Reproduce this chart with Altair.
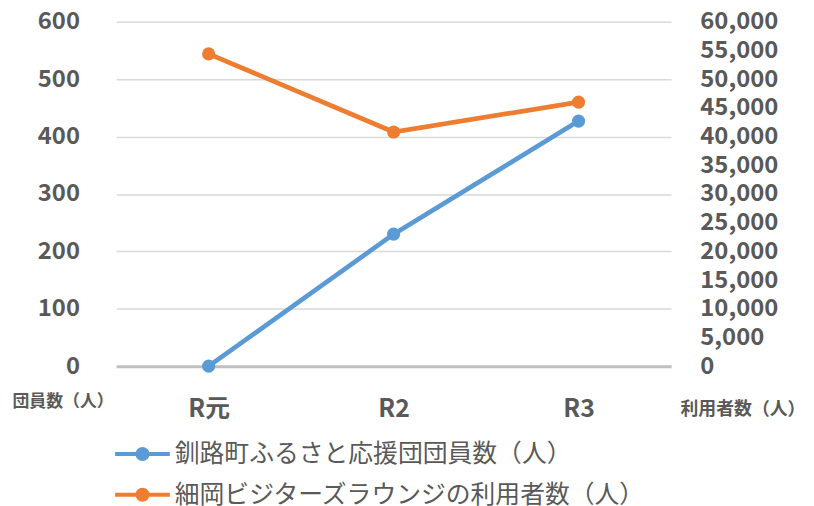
import altair as alt
import pandas as pd

categories = ["R元", "R2", "R3"]
series_names = ["釧路町ふるさと応援団団員数（人）", "細岡ビジターズラウンジの利用者数（人）"]
members = [0, 230, 427]
visitors = [54400, 40800, 46000]
colors = ["#5B9BD5", "#ED7D31"]
left_ticks = [0, 100, 200, 300, 400, 500, 600]
right_ticks = list(range(0, 60001, 5000))

df_a = pd.DataFrame({"cat": categories, "series": series_names[0], "value": members})
df_b = pd.DataFrame({"cat": categories, "series": series_names[1], "value": visitors})

FONT = "Noto Sans CJK JP"
GRAY = "#595959"

# line + dot legend symbol (stroke-only path: line and concentric circles)
sym = ("M-4.6,0L4.6,0 "
       "M0.4,0A0.4,0.4 0 1,1 -0.4,0A0.4,0.4 0 1,1 0.4,0Z "
       "M0.85,0A0.85,0.85 0 1,1 -0.85,0A0.85,0.85 0 1,1 0.85,0Z")

color = alt.Color(
    "series:N",
    scale=alt.Scale(domain=series_names, range=colors),
    sort=series_names,
    legend=alt.Legend(
        title=None, orient="none", legendX=14, legendY=423, direction="vertical",
        symbolType=sym, symbolSize=144, symbolStrokeWidth=4, symbolFillColor="transparent",
        labelFont=FONT, labelFontSize=25, labelColor=GRAY, labelOffset=20, labelLimit=0,
        rowPadding=14, padding=0,
    ),
)

x = alt.X(
    "cat:O", sort=categories,
    scale=alt.Scale(type="point", padding=0.5),
    axis=alt.Axis(title=None, labelAngle=0, labelFont=FONT, labelFontSize=25, labelFontWeight="bold",
                  labelColor=GRAY, labelPadding=31, ticks=False, domain=True,
                  domainColor="#BFBFBF", domainWidth=3, grid=False),
)

base_a = alt.Chart(df_a).encode(
    x=x,
    y=alt.Y("value:Q", scale=alt.Scale(domain=[0, 600], nice=False),
            axis=alt.Axis(values=left_ticks, title="団員数（人）", titleAngle=0, titleX=-54, titleY=383,
                          titleAlign="center", titleBaseline="middle", titleFont=FONT, titleFontSize=17,
                          titleFontWeight="bold", titleColor=GRAY,
                          labelFont=FONT, labelFontSize=24, labelFontWeight="bold", labelColor=GRAY,
                          labelPadding=37, ticks=False, domain=False, grid=True,
                          gridColor="#D9D9D9", gridWidth=1.5)),
    color=color,
)
layer_a = base_a.mark_line(strokeWidth=4.7) + base_a.mark_point(filled=True, size=175, opacity=1)

base_b = alt.Chart(df_b).encode(
    x=x,
    y=alt.Y("value:Q", scale=alt.Scale(domain=[0, 60000], nice=False),
            axis=alt.Axis(orient="right", values=right_ticks, labelExpr="format(datum.value, ',')",
                          title="利用者数（人）",
                          titleAngle=0, titleX=72, titleY=391, titleAlign="center", titleBaseline="middle",
                          titleFont=FONT, titleFontSize=18, titleFontWeight="bold", titleColor=GRAY,
                          labelFont=FONT, labelFontSize=24, labelFontWeight="bold", labelColor=GRAY,
                          labelAlign="left", labelPadding=29, ticks=False, domain=False, grid=False)),
    color=color,
)
layer_b = base_b.mark_line(strokeWidth=4.7) + base_b.mark_point(filled=True, size=175, opacity=1)

chart = alt.layer(layer_a, layer_b).resolve_scale(y="independent").properties(
    width=559, height=347,
    autosize=alt.AutoSizeParams(type="none"),
    padding={"left": 109, "top": 12, "right": 136, "bottom": 140},
).configure_view(stroke=None)

chart.save("out.html", embed_options={"renderer": "svg", "actions": False})
